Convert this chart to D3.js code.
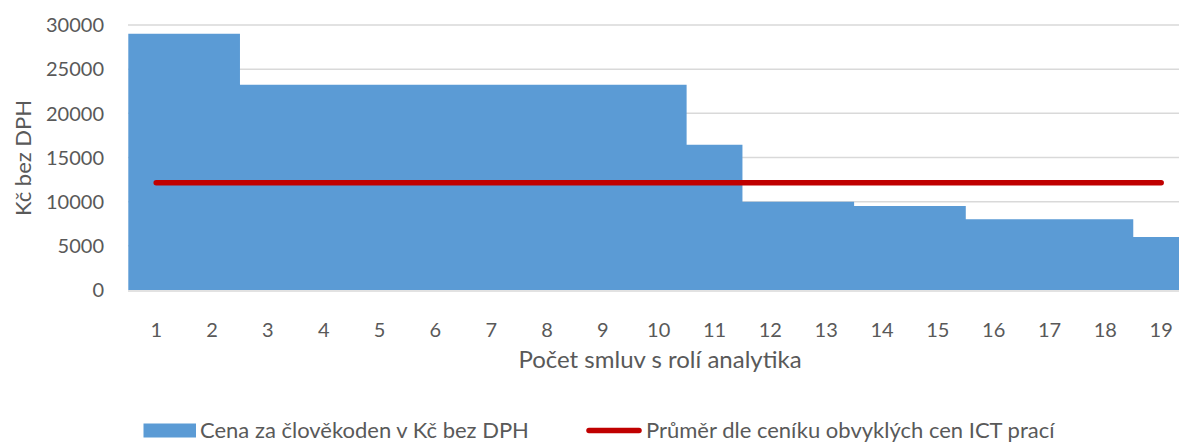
<!DOCTYPE html>
<html>
<head>
<meta charset="utf-8">
<script src="https://cdn.jsdelivr.net/npm/d3@7"></script>
<style>
    body { margin: 0; background: #fff; }
    text { font-family: Lato, "Open Sans", sans-serif; fill: #595959; }
</style>
</head>
<body>
<div id="chart"></div>
<script>
// Categories (number of contracts) and prices
const categories = ["1","2","3","4","5","6","7","8","9","10","11","12","13","14","15","16","17","18","19"];
const prices = [29000, 29000, 23250, 23250, 23250, 23250, 23250, 23250, 23250, 23250, 16450, 10000, 10000, 9500, 9500, 8000, 8000, 8000, 6000];
const averagePrice = [12150, 12150, 12150, 12150, 12150, 12150, 12150, 12150, 12150, 12150, 12150, 12150, 12150, 12150, 12150, 12150, 12150, 12150, 12150];
const yTicks = [0, 5000, 10000, 15000, 20000, 25000, 30000];
const seriesNames = ["Cena za člověkoden v Kč bez DPH", "Průměr dle ceníku obvyklých cen ICT prací"];

const width = 1179;
const height = 443;

const svg = d3.select("#chart").append("svg")
    .attr("width", width)
    .attr("height", height);

// Scales - the plot runs a bit past the right edge of the picture
const x = d3.scaleBand()
    .domain(categories)
    .range([128.3, 1189.1])
    .padding(0);

const y = d3.scaleLinear()
    .domain([0, 30000])
    .range([290, 25]);

// Horizontal gridlines
svg.append("g")
    .selectAll("line")
    .data(yTicks.filter(d => d > 0))
    .enter()
    .append("line")
    .attr("x1", 128)
    .attr("x2", width)
    .attr("y1", d => y(d))
    .attr("y2", d => y(d))
    .attr("stroke", "#d9d9d9")
    .attr("stroke-width", 1.5);

// Columns with zero gap, drawn as one stepped shape so no seams show
// (last value repeated to close the final column at the right edge)
const stepData = prices.concat([prices[prices.length - 1]]);
const area = d3.area()
    .x((d, i) => i < categories.length ? x(categories[i]) : x.range()[1])
    .y0(y(0))
    .y1(d => y(d))
    .curve(d3.curveStepAfter);

svg.append("path")
    .datum(stepData)
    .attr("d", area)
    .attr("fill", "#5b9bd5");

// Category axis line
svg.append("line")
    .attr("x1", 128)
    .attr("x2", width)
    .attr("y1", y(0) + 1)
    .attr("y2", y(0) + 1)
    .attr("stroke", "#d9d9d9")
    .attr("stroke-width", 1.5);

// Average line through the category centres
const line = d3.line()
    .x((d, i) => x(categories[i]) + x.bandwidth() / 2)
    .y(d => y(d));

svg.append("path")
    .datum(averagePrice)
    .attr("d", line)
    .attr("fill", "none")
    .attr("stroke", "#c00000")
    .attr("stroke-width", 5.5)
    .attr("stroke-linecap", "round");

// Y tick labels
svg.append("g")
    .selectAll("text")
    .data(yTicks)
    .enter()
    .append("text")
    .attr("x", 104)
    .attr("y", d => y(d))
    .attr("dy", "0.36em")
    .attr("text-anchor", "end")
    .style("font-size", "20px")
    .text(d => d);

// X tick labels
svg.append("g")
    .selectAll("text")
    .data(categories)
    .enter()
    .append("text")
    .attr("x", d => x(d) + x.bandwidth() / 2)
    .attr("y", 337)
    .attr("text-anchor", "middle")
    .style("font-size", "20px")
    .text(d => d);

// Axis titles
svg.append("text")
    .attr("x", 660)
    .attr("y", 368)
    .attr("text-anchor", "middle")
    .style("font-size", "24px")
    .text("Počet smluv s rolí analytika");

svg.append("text")
    .attr("transform", "translate(31,158) rotate(-90)")
    .attr("text-anchor", "middle")
    .style("font-size", "22px")
    .text("Kč bez DPH");

// Legend (kept a little clear of the bottom edge so descenders fit)
const legend = svg.append("g");

legend.append("rect")
    .attr("x", 143.5)
    .attr("y", 423.5)
    .attr("width", 52.5)
    .attr("height", 14)
    .attr("fill", "#5b9bd5");

legend.append("text")
    .attr("x", 200)
    .attr("y", 437.5)
    .style("font-size", "22px")
    .text(seriesNames[0]);

legend.append("line")
    .attr("x1", 589)
    .attr("x2", 639)
    .attr("y1", 430.5)
    .attr("y2", 430.5)
    .attr("stroke", "#c00000")
    .attr("stroke-width", 5.5)
    .attr("stroke-linecap", "round");

legend.append("text")
    .attr("x", 646)
    .attr("y", 437.5)
    .style("font-size", "22px")
    .text(seriesNames[1]);
</script>
</body>
</html>
